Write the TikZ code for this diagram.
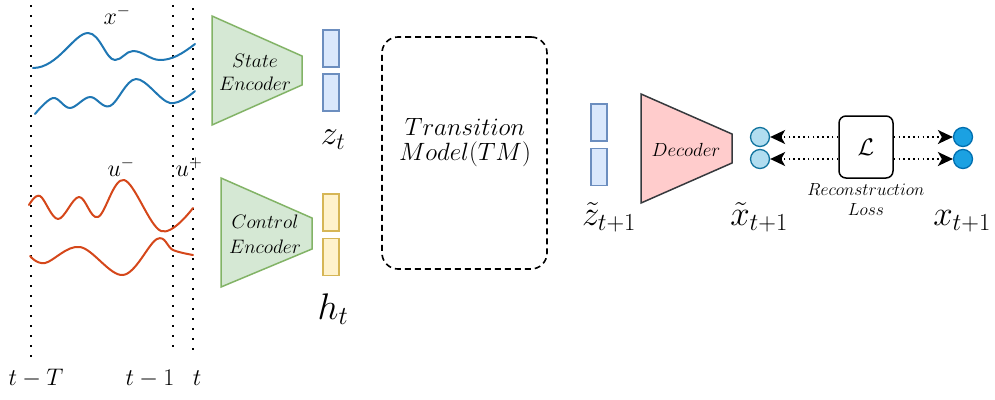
\RequirePackage{fix-cm}
\documentclass[tikz,border=0pt]{standalone}
\usetikzlibrary{arrows.meta}
\definecolor{sigblue}{HTML}{1F77B4}
\definecolor{sigred}{HTML}{D5471A}
\definecolor{encfill}{HTML}{D5E8D4}
\definecolor{encdraw}{HTML}{82B366}
\definecolor{zfill}{HTML}{DAE8FC}
\definecolor{zdraw}{HTML}{6C8EBF}
\definecolor{hfill}{HTML}{FFF2CC}
\definecolor{hdraw}{HTML}{D6B656}
\definecolor{decfill}{HTML}{FFCCCC}
\definecolor{decdraw}{HTML}{36393D}
\definecolor{cfillA}{HTML}{B1DDF0}
\definecolor{cdrawA}{HTML}{10739E}
\definecolor{cfillB}{HTML}{1BA1E2}
\definecolor{cdrawB}{HTML}{006EAF}
\tikzset{
  timeline/.style={line width=1.8pt, dash pattern=on 1.8pt off 8.2pt},
  sig/.style={line width=2pt, line join=round, line cap=round},
  enc/.style={draw=encdraw, fill=encfill, line width=1.5pt},
  zbox/.style={draw=zdraw, fill=zfill, line width=1.5pt, minimum width=16pt, minimum height=37pt, inner sep=0pt},
  hbox/.style={draw=hdraw, fill=hfill, line width=1.5pt, minimum width=16pt, minimum height=37pt, inner sep=0pt},
  circA/.style={circle, draw=cdrawA, fill=cfillA, line width=1.3pt, minimum size=19pt, inner sep=0pt},
  circB/.style={circle, draw=cdrawB, fill=cfillB, line width=1.3pt, minimum size=19pt, inner sep=0pt},
  lossarr/.style={line width=1.6pt, dash pattern=on 1.6pt off 3.2pt, -{Stealth[length=15pt,width=14pt,inset=4pt]}},
  lbl/.style={inner sep=0pt, font=\fontsize{35}{37}\selectfont},
  tlbl/.style={inner sep=0pt, font=\fontsize{24}{26}\selectfont},
  small/.style={inner sep=0pt, align=center},
}
\begin{document}
\begin{tikzpicture}[x=1pt,y=-1pt]
\useasboundingbox (0,0) rectangle (995,399);
% time lines
\coordinate (tA1) at (31,5); \coordinate (tA2) at (31,358);
\coordinate (tB1) at (173,5); \coordinate (tB2) at (173,348);
\coordinate (tC1) at (193,8); \coordinate (tC2) at (193,353);
\draw[timeline] (tA1) -- (tA2);
\draw[timeline] (tB1) -- (tB2);
\draw[timeline] (tC1) -- (tC2);
% signals
\draw[sig, sigblue] (33,68) .. controls (58,68) and (74,33) .. (88,33)
  .. controls (100,33) and (106,60) .. (115,60)
  .. controls (122,60) and (126,51) .. (133,51)
  .. controls (143,51) and (150,60) .. (160,60)
  .. controls (172,60) and (182,54) .. (195,44);
\draw[sig, sigblue] plot[smooth, tension=0.6] coordinates {(35,114) (53,98) (70,108) (90,97) (110,106) (136,79) (170,103) (195,91)};
\draw[sig, sigred] plot[smooth, tension=0.6] coordinates {(29,205) (40,196) (58,219) (79,197) (98,217) (124,180) (161,231) (193,208)};
\draw[sig, sigred] plot[smooth, tension=0.6] coordinates {(30,256) (45,263) (80,247) (123,275) (157,239) (173,250) (193,255)};
% signal labels
\node[tlbl, anchor=base] (xm) at (117,24) {$x^{-}$};
\node[tlbl, anchor=base] (um) at (121,176) {$u^{-}$};
\node[tlbl, anchor=base] (up) at (189,176) {$u^{+}$};
\node[tlbl, anchor=base] (tT) at (36,385) {$t-T$};
\node[tlbl, anchor=base] (t1) at (150,385) {$t-1$};
\node[tlbl, anchor=base] (t0) at (197,385) {$t$};
% state encoder
\draw[enc] (212,16) -- (302,56) -- (302,85) -- (212,125) -- cycle;
\node[small, font=\fontsize{19.5}{23}\selectfont] (senc) at (255,72) {$State$\\$Encoder$};
% control encoder
\draw[enc] (221,178) -- (312,218) -- (312,249) -- (221,287) -- cycle;
\node[small, font=\fontsize{19.5}{25}\selectfont] (cenc) at (265,234) {$Control$\\$Encoder$};
% z_t boxes
\node[zbox] (z1) at (331,48.5) {};
\node[zbox] (z2) at (331,92.5) {};
\node[lbl, font=\fontsize{34}{36}\selectfont, anchor=base] (zt) at (333,144) {$z_t$};
% h_t boxes
\node[hbox] (h1) at (331,212.5) {};
\node[hbox] (h2) at (331,257) {};
\node[lbl, font=\fontsize{37}{39}\selectfont, anchor=base] (ht) at (333,319) {$h_t$};
% transition model
\node[draw, line width=1.6pt, rounded corners=16pt, dash pattern=on 6pt off 4pt,
      minimum width=165pt, minimum height=232pt] (tm) at (464.5,153) {};
\node[small, font=\fontsize{25}{25}\selectfont] (tmtext) at (465,143) {$Transition$\\$Model(TM)$};
% z tilde boxes
\node[zbox] (zz1) at (599,122.5) {};
\node[zbox] (zz2) at (599,167) {};
\node[lbl, anchor=base] (zzl) at (609,225) {$\tilde{z}_{t+1}$};
% decoder
\draw[draw=decdraw, fill=decfill, line width=1.5pt] (641,94) -- (732,134) -- (732,163) -- (641,203) -- cycle;
\node[small, font=\fontsize{19}{21}\selectfont] (dec) at (686,150) {$Decoder$};
% reconstructed circles
\node[circA] (xa) at (760,137) {};
\node[circA] (xb) at (760,159) {};
\node[lbl, anchor=base] (xtl) at (759,225) {$\tilde{x}_{t+1}$};
% loss
\node[draw, line width=1.5pt, rounded corners=7pt, minimum width=54pt, minimum height=62pt,
      font=\fontsize{24}{26}\selectfont] (L) at (866,147) {$\mathcal{L}$};
\node[small, font=\fontsize{17.5}{20}\selectfont] (rl) at (866,200) {$Reconstruction$\\$Loss$};
% target circles
\node[circB] (ya) at (963,137) {};
\node[circB] (yb) at (963,159) {};
\node[lbl, anchor=base] (xl) at (962,225) {$x_{t+1}$};
% loss arrows
\draw[lossarr] (L.west |- xa) -- (xa.east);
\draw[lossarr] (L.west |- xb) -- (xb.east);
\draw[lossarr] (L.east |- ya) -- (ya.west);
\draw[lossarr] (L.east |- yb) -- (yb.west);
\end{tikzpicture}
\end{document}
